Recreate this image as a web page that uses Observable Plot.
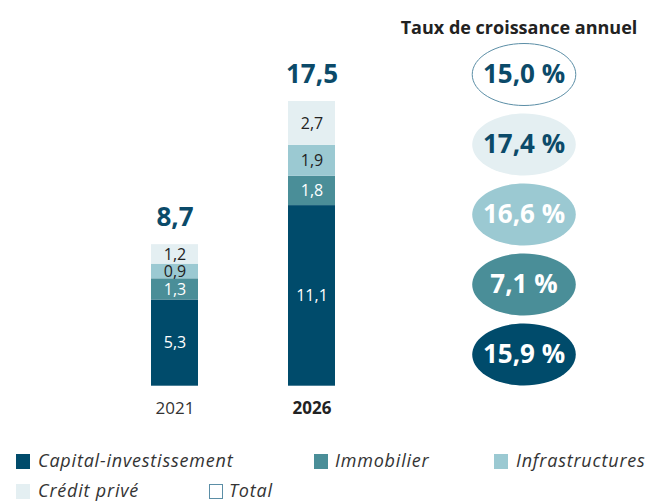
<!DOCTYPE html>
<html><head><meta charset="utf-8">
<script src="https://cdn.jsdelivr.net/npm/d3@7"></script>
<script src="https://cdn.jsdelivr.net/npm/@observablehq/plot@0.6"></script>
<style>
body{margin:0;background:#fff;font-family:"Open Sans",sans-serif;}
#wrap{position:relative;width:657px;height:502px;overflow:hidden;}
#bars{position:absolute;left:0;top:0;}
#rates{position:absolute;left:390px;top:0;}
.leg{position:absolute;font-style:italic;font-size:18px;letter-spacing:0.8px;color:#333;line-height:20px;white-space:nowrap;}
.sw{position:absolute;width:14px;height:15px;box-sizing:border-box;}
</style></head>
<body><div id="wrap"><div id="bars"></div><div id="rates"></div><div id="legend"></div></div>
<script>
const years = ["2021", "2026"];
const series = ["Capital-investissement", "Immobilier", "Infrastructures", "Crédit privé"];
const values2021 = [5.3, 1.3, 0.9, 1.2];
const values2026 = [11.1, 1.8, 1.9, 2.7];
const totals = [8.7, 17.5];
const rateLabels = ["Total", "Crédit privé", "Infrastructures", "Immobilier", "Capital-investissement"];
const rates = [15.0, 17.4, 16.6, 7.1, 15.9];
const colors = ["#004b6b", "#4a8e98", "#9bc9d2", "#e4eff2"];
const labelColors = ["#ffffff", "#ffffff", "#222222", "#222222"];
const rateFill = ["#ffffff", "#e4eff2", "#9bc9d2", "#4a8e98", "#004b6b"];
const rateText = ["#0b4a69", "#0b4a69", "#ffffff", "#ffffff", "#ffffff"];
const title = "Taux de croissance annuel";

const fmt = v => v.toFixed(1).replace(".", ",");

const data = [];
years.forEach((yr, i) => {
  const vals = i === 0 ? values2021 : values2026;
  series.forEach((s, j) => data.push({year: yr, series: s, value: vals[j], idx: j}));
});
const totalData = years.map((yr, i) => ({year: yr, total: totals[i]}));

const bars = Plot.plot({
  width: 390, height: 420,
  marginLeft: 122.4, marginRight: 27.6, marginTop: 60.3, marginBottom: 34.3,
  x: {domain: years, paddingInner: 0.66, paddingOuter: 0.2, axis: null},
  y: {domain: [0, 20], axis: null},
  color: {domain: series, range: colors},
  style: {fontFamily: "Open Sans", overflow: "visible"},
  marks: [
    Plot.barY(data, {x: "year", y: "value", fill: "series", order: series}),
    Plot.text(data, Plot.stackY({x: "year", y: "value", z: "series", order: series,
      text: d => fmt(d.value), fill: d => labelColors[d.idx], fontSize: 16})),
    Plot.text(totalData, {x: "year", y: "total", text: d => fmt(d.total), dy: -27,
      fontSize: 26, fontWeight: "bold", fill: "#0b4a69"}),
    Plot.text(totalData.filter(d => d.year === "2021"), {x: "year", y: 0, text: "year", dy: 22,
      fontSize: 17, fill: "#333"}),
    Plot.text(totalData.filter(d => d.year === "2026"), {x: "year", y: 0, text: "year", dy: 22,
      fontSize: 17, fontWeight: "bold", fill: "#222"})
  ]
});
document.getElementById("bars").appendChild(bars);

const ellipse = {
  draw(ctx, size) {
    const r = Math.sqrt(size / Math.PI);
    const rx = r * 1.67, ry = r, k = 0.5523;
    ctx.moveTo(rx, 0);
    ctx.bezierCurveTo(rx, ry * k, rx * k, ry, 0, ry);
    ctx.bezierCurveTo(-rx * k, ry, -rx, ry * k, -rx, 0);
    ctx.bezierCurveTo(-rx, -ry * k, -rx * k, -ry, 0, -ry);
    ctx.bezierCurveTo(rx * k, -ry, rx, -ry * k, rx, 0);
    ctx.closePath();
  }
};
const rateData = rateLabels.map((s, i) => ({series: s, rate: rates[i], i}));

const ratesPlot = Plot.plot({
  width: 267, height: 420,
  marginLeft: 0, marginRight: 0, marginTop: 37.75, marginBottom: 29.75,
  y: {type: "band", domain: rateLabels, padding: 0, axis: null},
  style: {fontFamily: "Open Sans", overflow: "visible"},
  marks: [
    Plot.dot(rateData, {y: "series", frameAnchor: "middle", symbol: ellipse, r: 31,
      fill: d => rateFill[d.i], stroke: d => d.i === 0 ? "#5b8ea6" : "none", strokeWidth: 1}),
    Plot.text(rateData, {y: "series", frameAnchor: "middle", text: d => fmt(d.rate) + " %",
      fill: d => rateText[d.i], fontSize: 26, fontWeight: "bold"}),
    Plot.text([title], {frameAnchor: "top", text: d => d, dy: -17, dx: -5,
      fontSize: 18, fontWeight: "bold", fill: "#222"})
  ]
});
document.getElementById("rates").appendChild(ratesPlot);

// Legend
const legendItems = [
  {label: series[0], fill: colors[0], row: 0, sx: 16, tx: 38},
  {label: series[1], fill: colors[1], row: 0, sx: 314, tx: 335},
  {label: series[2], fill: colors[2], row: 0, sx: 494, tx: 516},
  {label: series[3], fill: colors[3], row: 1, sx: 16, tx: 38},
  {label: "Total", fill: "#ffffff", stroke: "#5b8ea6", row: 1, sx: 209, tx: 229}
];
const leg = document.getElementById("legend");
legendItems.forEach(it => {
  const yc = it.row === 0 ? 461 : 491;
  const sw = document.createElement("div");
  sw.className = "sw";
  sw.style.left = it.sx + "px"; sw.style.top = (yc - 7) + "px";
  sw.style.background = it.fill;
  if (it.stroke) sw.style.border = "1.5px solid " + it.stroke;
  leg.appendChild(sw);
  const t = document.createElement("div");
  t.className = "leg";
  t.style.left = it.tx + "px"; t.style.top = (yc - 11) + "px";
  t.textContent = it.label;
  leg.appendChild(t);
});
</script></body></html>
